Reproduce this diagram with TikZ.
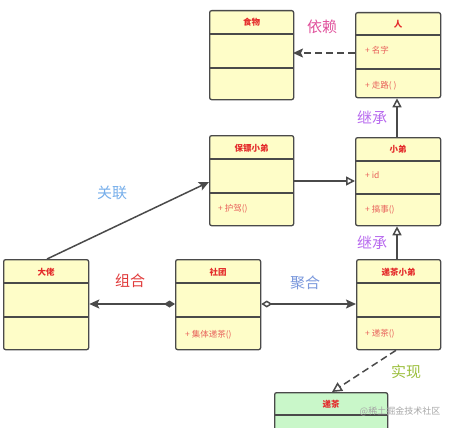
\documentclass[tikz,border=0pt]{standalone}
\usepackage{fontspec}
\setmainfont{Noto Sans CJK SC}
\usetikzlibrary{arrows.meta}
\definecolor{boxfill}{HTML}{FEFDC8}
\definecolor{greenfill}{HTML}{C9F7C9}
\definecolor{boxline}{HTML}{4A4A4A}
\definecolor{titlered}{HTML}{E42B2B}
\definecolor{memred}{HTML}{E8605A}
\definecolor{cyilai}{HTML}{E0529C}
\definecolor{cjicheng}{HTML}{B86AEE}
\definecolor{cguanlian}{HTML}{76AEEA}
\definecolor{czuhe}{HTML}{E03A3A}
\definecolor{cjuhe}{HTML}{7A98DC}
\definecolor{cshixian}{HTML}{9CBF3E}
\tikzset{
  cls/.style={draw=boxline, fill=boxfill, line width=1.3pt, rounded corners=2pt, anchor=north west, inner sep=0pt},
  gcls/.style={cls, fill=greenfill},
  ttl/.style={text=titlered, font=\fontsize{8.5}{9}\selectfont\bfseries, inner sep=0pt},
  mem/.style={text=memred, font=\fontsize{8.5}{9}\selectfont, anchor=west, inner sep=0pt},
  divl/.style={draw=boxline, line width=1.3pt},
  conn/.style={draw=boxline, line width=1.5pt},
  rel/.style={font=\fontsize{15}{16}\selectfont, inner sep=0pt},
  fillhead/.style={-{Stealth[length=10pt,width=9pt,inset=2pt]}},
  openhead/.style={-{Triangle[open,length=9pt,width=9pt]}},
}
\begin{document}
\begin{tikzpicture}[x=1pt,y=-1pt]
\useasboundingbox (0,0) rectangle (455,428);
% boxes
\node[cls, minimum width=84pt, minimum height=89pt] (shiwu) at (209,10) {};
\node[cls, minimum width=85pt, minimum height=85pt] (ren) at (355,12) {};
\node[cls, minimum width=84pt, minimum height=90pt] (baobiao) at (209,135) {};
\node[cls, minimum width=85pt, minimum height=88pt] (xiaodi) at (355,137) {};
\node[cls, minimum width=85pt, minimum height=90pt] (dalao) at (3,259) {};
\node[cls, minimum width=85pt, minimum height=90pt] (shetuan) at (175,259) {};
\node[cls, minimum width=84pt, minimum height=90pt] (dicha) at (356,259) {};
\node[gcls, minimum width=113pt, minimum height=50pt] (dichaif) at (274,392) {};
% dividers
\draw[divl] (shiwu.west |- 0,34) -- (shiwu.east |- 0,34);
\draw[divl] (shiwu.west |- 0,68) -- (shiwu.east |- 0,68);
\draw[divl] (ren.west |- 0,35) -- (ren.east |- 0,35);
\draw[divl] (ren.west |- 0,69) -- (ren.east |- 0,69);
\draw[divl] (baobiao.west |- 0,159) -- (baobiao.east |- 0,159);
\draw[divl] (baobiao.west |- 0,193) -- (baobiao.east |- 0,193);
\draw[divl] (xiaodi.west |- 0,161) -- (xiaodi.east |- 0,161);
\draw[divl] (xiaodi.west |- 0,194) -- (xiaodi.east |- 0,194);
\draw[divl] (dalao.west |- 0,283) -- (dalao.east |- 0,283);
\draw[divl] (dalao.west |- 0,317) -- (dalao.east |- 0,317);
\draw[divl] (shetuan.west |- 0,283) -- (shetuan.east |- 0,283);
\draw[divl] (shetuan.west |- 0,317) -- (shetuan.east |- 0,317);
\draw[divl] (dicha.west |- 0,283) -- (dicha.east |- 0,283);
\draw[divl] (dicha.west |- 0,317) -- (dicha.east |- 0,317);
\draw[divl] (dichaif.west |- 0,415) -- (dichaif.east |- 0,415);
% titles
\node[ttl] (t1) at (shiwu.north |- 0,22) {食物};
\node[ttl] (t2) at (ren.north |- 0,24) {人};
\node[ttl] (t3) at (baobiao.north |- 0,148) {保镖小弟};
\node[ttl] (t4) at (xiaodi.north |- 0,149) {小弟};
\node[ttl] (t5) at (dalao.north |- 0,272) {大佬};
\node[ttl] (t6) at (shetuan.north |- 0,272) {社团};
\node[ttl] (t7) at (dicha.north |- 0,272) {递茶小弟};
\node[ttl] (t8) at (dichaif.north |- 0,404) {递茶};
% members
\node[mem] (m1) at (365,50) {+ 名字};
\node[mem] (m2) at (365,86) {+ 走路( )};
\node[mem] (m3) at (218,209) {+ 护驾()};
\node[mem] (m4) at (365,175) {+ id};
\node[mem] (m5) at (365,210) {+ 搞事()};
\node[mem] (m6) at (185,335) {+ 集体递茶()};
\node[mem] (m7) at (365,334) {+ 递茶()};
% connectors
\coordinate (renL) at (355,53);
\coordinate (shiwuR) at (293,53);
\draw[conn, dash pattern=on 7pt off 4pt, fillhead] (renL) -- (shiwuR);
\draw[conn, openhead] (xiaodi.north -| 397,0) -- (ren.south -| 397,0);
\draw[conn, openhead] (dicha.north -| 397,0) -- (xiaodi.south -| 397,0);
\draw[conn, openhead] (baobiao.east |- 0,181) -- (xiaodi.west |- 0,181);
\draw[conn, fillhead] (dalao.north -| 47,0) -- (baobiao.west |- 0,182);
\draw[conn, {Stealth[length=10pt,width=9pt,inset=2pt]}-{Diamond[length=11pt,width=7pt]}] (dalao.east |- 0,304) -- (shetuan.west |- 0,304);
\draw[conn, {Diamond[open,length=11pt,width=7pt]}-{Stealth[length=10pt,width=9pt,inset=2pt]}] (shetuan.east |- 0,304) -- (dicha.west |- 0,304);
\draw[conn, dash pattern=on 7pt off 4pt, -{Triangle[open,length=10pt,width=10pt]}] (dicha.south -| 396,0) -- (dichaif.north -| 332,0);
% relation labels
\node[rel, text=cyilai] (l1) at (322,27) {依赖};
\node[rel, text=cjicheng] (l2) at (372,118) {继承};
\node[rel, text=cjicheng] (l3) at (372,243) {继承};
\node[rel, text=cguanlian] (l4) at (112,193) {关联};
\node[rel, text=czuhe] (l5) at (130,281) {组合};
\node[rel, text=cjuhe] (l6) at (305,283) {聚合};
\node[rel, text=cshixian] (l7) at (406,372) {实现};
\node[text=gray!70, font=\fontsize{9}{10}\selectfont, inner sep=0pt] (wm) at (400,411) {@稀土掘金技术社区};
\end{tikzpicture}
\end{document}
